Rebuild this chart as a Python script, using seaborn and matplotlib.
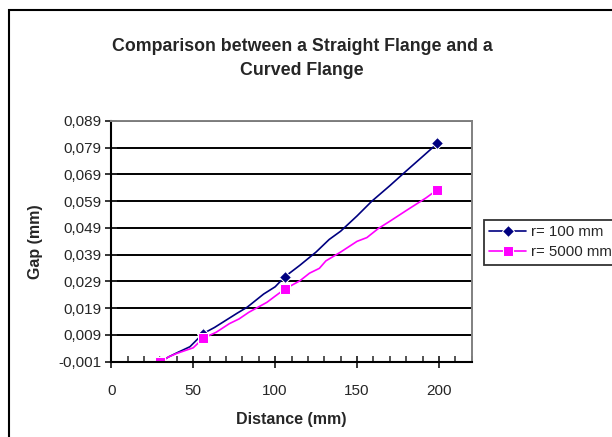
import matplotlib
matplotlib.use('Agg')
import matplotlib.pyplot as plt
import seaborn as sns
from matplotlib.patches import Rectangle
from matplotlib.ticker import MultipleLocator, FuncFormatter

# --- DATA ---
dist_r100 = [30, 35, 40, 48, 56, 63, 70, 77, 83, 93, 100, 106, 115, 125, 133,
             140, 150, 159, 170, 180, 190, 199]
gap_r100 = [-0.001, 0.0008, 0.0023, 0.0046, 0.0095, 0.0118, 0.0145, 0.0172,
            0.0194, 0.0243, 0.0270, 0.0308, 0.0350, 0.0400, 0.0447, 0.0478,
            0.0535, 0.0590, 0.0648, 0.0703, 0.0757, 0.0806]
marks_r100 = [0, 4, 11, 21]

dist_r5000 = [30, 35, 40, 50, 56, 64, 72, 78, 84, 95, 100, 106, 115, 121, 127,
              131, 140, 150, 156, 163, 170, 180, 192, 199]
gap_r5000 = [-0.001, 0.0008, 0.0021, 0.0042, 0.0077, 0.0100, 0.0132, 0.0150,
             0.0175, 0.0212, 0.0235, 0.0262, 0.0292, 0.0321, 0.0339, 0.0367,
             0.0400, 0.0440, 0.0454, 0.0488, 0.0515, 0.0555, 0.0602, 0.0633]
marks_r5000 = [0, 4, 11, 23]

y_ticks = [-0.001, 0.009, 0.019, 0.029, 0.039, 0.049, 0.059, 0.069, 0.079, 0.089]

TITLE = "Comparison between a Straight Flange and a\nCurved Flange"

sns.set_style("white")
plt.rcParams['font.family'] = ['Liberation Sans', 'DejaVu Sans']

fig = plt.figure(figsize=(6.12, 4.37), dpi=100)
ax = fig.add_axes([111.3 / 612, 1 - 361.7 / 437, 360.4 / 612, 240.7 / 437])

sns.lineplot(x=dist_r100, y=gap_r100, ax=ax, color="#000080", lw=1.2,
             marker="D", markersize=6.5, markevery=marks_r100, sort=False,
             label="r= 100 mm")
sns.lineplot(x=dist_r5000, y=gap_r5000, ax=ax, color="#FF00FF", lw=1.2,
             marker="s", markersize=7, markevery=marks_r5000, sort=False,
             label="r= 5000 mm")

ax.set_xlim(0, 220)
ax.set_ylim(-0.001, 0.089)
ax.set_yticks(y_ticks)
ax.xaxis.set_major_locator(MultipleLocator(50))
ax.xaxis.set_minor_locator(MultipleLocator(10))
ax.yaxis.set_major_formatter(FuncFormatter(lambda v, p: f"{v:.3f}".replace(".", ",")))

ax.grid(axis="y", color="black", lw=1.4)
ax.set_axisbelow(True)
for s in ["top", "right"]:
    ax.spines[s].set_color("#808080")
    ax.spines[s].set_linewidth(1.4)
for s in ["left", "bottom"]:
    ax.spines[s].set_color("black")
    ax.spines[s].set_linewidth(1.5)

ax.tick_params(axis="x", which="major", direction="inout", length=8, width=1.3,
               labelsize=11, pad=12, bottom=True)
ax.tick_params(axis="x", which="minor", direction="in", length=4, width=1.1,
               bottom=True)
ax.tick_params(axis="y", which="major", direction="inout", length=8, width=1.3,
               labelsize=11, left=True, pad=3)

ax.set_xlabel("Distance (mm)", fontsize=11.5, fontweight="bold", labelpad=10)
ax.set_ylabel("Gap (mm)", fontsize=11.5, fontweight="bold", labelpad=11)

fig.text(302 / 612, 1 - 58.5 / 437, TITLE, ha="center", va="center",
         fontsize=12.8, fontweight="bold", linespacing=1.55)

leg = ax.legend(loc="upper left", bbox_to_anchor=(483.5 / 612, 1 - 220 / 437),
                bbox_transform=fig.transFigure, fontsize=10.8, frameon=True,
                fancybox=False, edgecolor="black", borderpad=0.35,
                handlelength=2.5, handletextpad=0.3, labelspacing=0.4,
                borderaxespad=0)
leg.get_frame().set_linewidth(1.3)

# chart area border (runs off the right and bottom edges)
fig.patches.append(Rectangle((8.5 / 612, -0.2), 2.0, 1.2 - 10 / 437,
                             transform=fig.transFigure, fill=False,
                             edgecolor="black", lw=1.5, clip_on=False))

fig.savefig("out.png", dpi=100)
